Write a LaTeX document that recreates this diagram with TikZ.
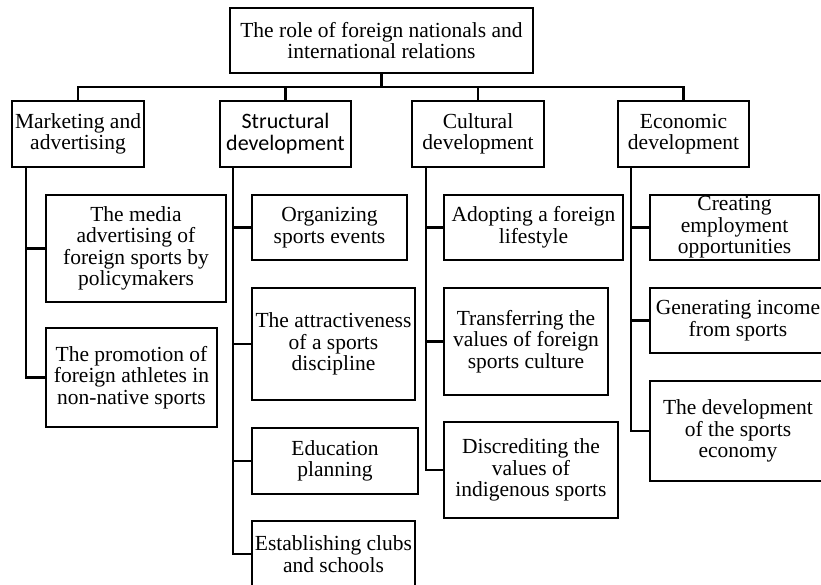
\documentclass[tikz,border=0pt]{standalone}
\usepackage{fontspec}
\setmainfont{Liberation Serif}
\newfontfamily\calibrifont{Carlito}
\begin{document}
\begin{tikzpicture}[x=1pt,y=-1pt,
  box/.style={draw, line width=2.2pt, inner sep=0pt, align=center,
    font=\fontsize{21.5}{21.5}\selectfont},
  link/.style={line width=2.2pt}]
\useasboundingbox (0,0) rectangle (821,585);
\fill[white] (0,0) rectangle (821,585);
\clip (0,0) rectangle (821,585);

% top
\node[box, minimum width=303pt, minimum height=65pt] (top) at (381.5,40.5)
  {The role of foreign nationals and\\international relations};

% level 2
\node[box, minimum width=132pt, minimum height=66pt] (mk) at (78,134) {Marketing and\\advertising};
\node[box, minimum width=131pt, minimum height=66pt, font=\calibrifont\fontsize{22}{22}\selectfont] (st) at (285.5,134) {Structural\\development};
\node[box, minimum width=132pt, minimum height=66pt] (cu) at (478,134) {Cultural\\development};
\node[box, minimum width=131pt, minimum height=66pt] (ec) at (683.5,134) {Economic\\development};

% marketing children
\node[box, minimum width=180pt, minimum height=107pt] (media) at (136,248.5)
  {The media\\advertising of\\foreign sports by\\policymakers};
\node[box, minimum width=171pt, minimum height=99pt] (promo) at (131.5,377.5)
  {The promotion of\\foreign athletes in\\non-native sports};

% structural children
\node[box, minimum width=155pt, minimum height=65pt] (org) at (329.5,227.5) {Organizing\\sports events};
\node[box, minimum width=163pt, minimum height=112pt] (attr) at (333.5,344) {The attractiveness\\of a sports\\discipline};
\node[box, minimum width=166pt, minimum height=66pt] (edu) at (335,461) {Education\\planning};
\node[box, minimum width=163pt, minimum height=66pt] (est) at (333.5,554) {Establishing clubs\\and schools};

% cultural children
\node[box, minimum width=179pt, minimum height=65pt] (adopt) at (533.5,227.5) {Adopting a foreign\\lifestyle};
\node[box, minimum width=164pt, minimum height=107pt] (trans) at (526,341.5) {Transferring the\\values of foreign\\sports culture};
\node[box, minimum width=174pt, minimum height=96pt] (disc) at (531,470) {Discrediting the\\values of\\indigenous sports};

% economic children
\node[box, minimum width=169pt, minimum height=65pt] (creat) at (734.5,227.5) {Creating\\employment\\opportunities};
\node[box, minimum width=176pt, minimum height=65pt] (gen) at (738,320.5) {Generating income\\from sports};
\node[box, minimum width=176pt, minimum height=100pt] (dev) at (738,431) {The development\\of the sports\\economy};

% bus
\coordinate (bus) at (0,87);
\draw[link] (top.south) -- (top.south |- bus);
\draw[link] (mk.north) |- (ec.north |- bus) -- (ec.north);
\draw[link] (st.north) -- (st.north |- bus);
\draw[link] (cu.north) -- (cu.north |- bus);

% trunks
\coordinate (mkx) at (26,0);
\coordinate (stx) at (233,0);
\coordinate (cux) at (426,0);
\coordinate (ecx) at (631,0);

\draw[link] (mk.south -| mkx) |- (media.west);
\draw[link] (mk.south -| mkx) |- (promo.west);

\draw[link] (st.south -| stx) |- (org.west);
\draw[link] (st.south -| stx) |- (attr.west);
\draw[link] (st.south -| stx) |- (edu.west);
\draw[link] (st.south -| stx) |- (est.west);

\draw[link] (cu.south -| cux) |- (adopt.west);
\draw[link] (cu.south -| cux) |- (trans.west);
\draw[link] (cu.south -| cux) |- (disc.west);

\draw[link] (ec.south -| ecx) |- (creat.west);
\draw[link] (ec.south -| ecx) |- (gen.west);
\draw[link] (ec.south -| ecx) |- (dev.west);
\end{tikzpicture}
\end{document}
